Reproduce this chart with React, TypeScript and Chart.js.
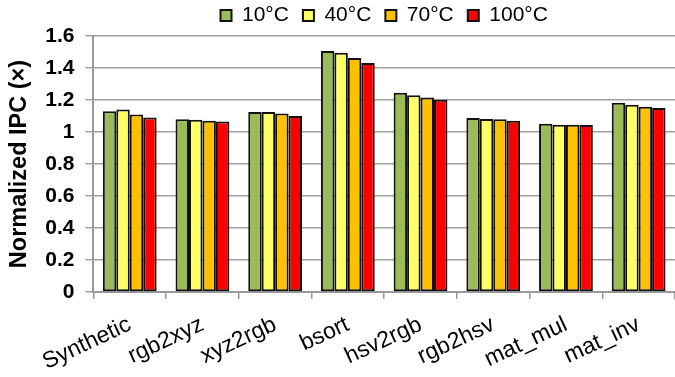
import React, { useEffect, useRef } from "react";
import { Chart, registerables } from "chart.js";

Chart.register(...registerables);

const categories = ["Synthetic", "rgb2xyz", "xyz2rgb", "bsort", "hsv2rgb", "rgb2hsv", "mat_mul", "mat_inv"];
const seriesNames = ["10°C", "40°C", "70°C", "100°C"];
const t10 = [1.13, 1.08, 1.125, 1.506, 1.246, 1.088, 1.052, 1.183];
const t40 = [1.14, 1.077, 1.125, 1.496, 1.229, 1.081, 1.046, 1.171];
const t70 = [1.11, 1.07, 1.115, 1.463, 1.215, 1.079, 1.046, 1.158];
const t100 = [1.09, 1.065, 1.1, 1.431, 1.202, 1.071, 1.044, 1.15];
const seriesColors = ["#9BBB59", "#FFFF66", "#FFC000", "#FF0000"];
const yTitle = "Normalized IPC (×)";

const FONT = "'Liberation Sans', Arial, sans-serif";

export default function App() {
  const ref = useRef<HTMLCanvasElement | null>(null);

  useEffect(() => {
    document.body.style.margin = "0";
    const canvas = ref.current;
    if (!canvas) return;
    const values = [t10, t40, t70, t100];
    const chart = new Chart(canvas, {
      type: "bar",
      data: {
        labels: categories,
        datasets: seriesNames.map((name, i) => ({
          label: name,
          data: values[i],
          backgroundColor: seriesColors[i],
          borderColor: "#111",
          borderWidth: 2,
          borderSkipped: false,
          categoryPercentage: 0.74,
          barPercentage: 1,
        })),
      },
      options: {
        animation: false,
        responsive: true,
        maintainAspectRatio: false,
        layout: { padding: { left: 0, right: 0, top: -9, bottom: -11 } },
        plugins: {
          tooltip: { enabled: false },
          legend: {
            position: "top",
            fullSize: false,
            labels: {
              boxWidth: 11,
              boxHeight: 11,
              padding: 14,
              color: "#000",
              font: { family: FONT, size: 21 },
            },
          },
        },
        scales: {
          x: {
            grid: {
              display: true,
              drawOnChartArea: false,
              tickLength: 7,
              color: "#999",
              lineWidth: 1.5,
            },
            border: { color: "#999", width: 2 },
            ticks: {
              autoSkip: false,
              minRotation: 25,
              maxRotation: 25,
              padding: 12,
              color: "#000",
              font: { family: FONT, size: 23 },
            },
          },
          y: {
            min: 0,
            max: 1.6,
            ticks: {
              stepSize: 0.2,
              padding: 11,
              color: "#000",
              font: { family: FONT, size: 21, weight: "bold" },
              callback: (v: any) => String(Number(Number(v).toFixed(2))),
            },
            grid: { color: "#a0a0a0", lineWidth: 1.5, tickLength: 8 },
            border: { color: "#999", width: 2 },
            title: {
              display: true,
              text: yTitle,
              color: "#000",
              padding: { top: 5, bottom: 1 },
              font: { family: FONT, size: 23.5, weight: "bold" },
            },
          },
        },
      },
    });
    return () => chart.destroy();
  }, []);

  return (
    <div style={{ width: 675, height: 377, position: "relative" }}>
      <canvas ref={ref} />
    </div>
  );
}
